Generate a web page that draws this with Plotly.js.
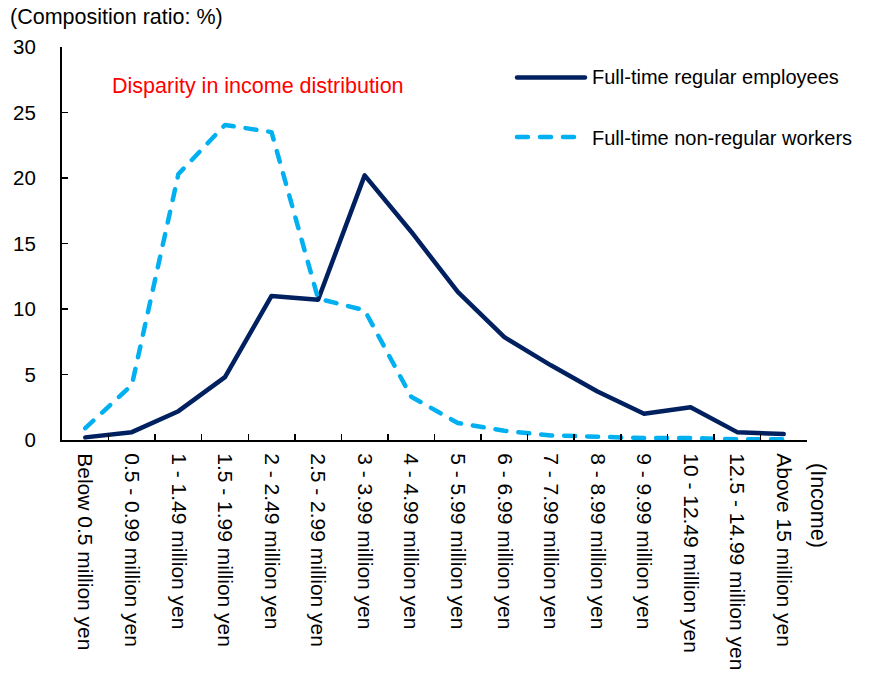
<!DOCTYPE html>
<html>
<head>
<meta charset="utf-8">
<script src="https://cdn.plot.ly/plotly-3.0.1.min.js"></script>
<style>
html,body{margin:0;padding:0;background:#fff;}
#chart{width:872px;height:675px;}
#chart .scatterlayer path.js-line, #chart .shapelayer path{stroke-linecap:round;stroke-linejoin:round;}
</style>
</head>
<body>
<div id="chart"></div>
<script>
const categories = [
  "Below 0.5 million yen", "0.5 - 0.99 million yen", "1 - 1.49 million yen",
  "1.5 - 1.99 million yen", "2 - 2.49 million yen", "2.5 - 2.99 million yen",
  "3 - 3.99 million yen", "4 - 4.99 million yen", "5 - 5.99 million yen",
  "6 - 6.99 million yen", "7 - 7.99 million yen", "8 - 8.99 million yen",
  "9 - 9.99 million yen", "10 - 12.49 million yen", "12.5 - 14.99 million yen",
  "Above 15 million yen"
];
const regularName = "Full-time regular employees";
const regularValues = [0.2, 0.6, 2.2, 4.8, 11.0, 10.7, 20.2, 15.9, 11.3, 7.85, 5.7, 3.7, 2.0, 2.5, 0.6, 0.45];
const nonRegularName = "Full-time non-regular workers";
const nonRegularValues = [0.9, 4.2, 20.3, 24.05, 23.5, 10.8, 9.9, 3.3, 1.3, 0.7, 0.35, 0.25, 0.15, 0.15, 0.05, 0.05];
const yTitle = "(Composition ratio: %)";
const xTitle = "(Income)";
const noteText = "Disparity in income distribution";

const navy = "#002060";
const sky = "#00B0F0";
const FONT = "Liberation Sans, Arial, sans-serif";
const DASH = "11px,12px";

const W = 872, H = 675, L = 62, R = 65, T = 47, B = 235;
const pw = W - L - R, ph = H - T - B;
const px = x => (x - L) / pw;
const py = y => (H - B - y) / ph;

const traces = [
  {x: categories, y: regularValues, name: regularName, type: "scatter", mode: "lines",
   line: {color: navy, width: 4.5}, showlegend: false},
  {x: categories, y: nonRegularValues, name: nonRegularName, type: "scatter", mode: "lines",
   line: {color: sky, width: 4.5, dash: DASH}, showlegend: false}
];

const layout = {
  width: W, height: H,
  margin: {l: L, r: R, t: T, b: B},
  paper_bgcolor: "#fff", plot_bgcolor: "#fff",
  font: {family: FONT, size: 20, color: "#000"},
  showlegend: false,
  xaxis: {
    type: "category", range: [-0.5, categories.length - 0.5],
    tickson: "boundaries", ticks: "inside", ticklen: 6, tickwidth: 1.5, tickcolor: "#000",
    tickangle: 90, tickfont: {family: FONT, size: 21, color: "#000"},
    showline: true, linecolor: "#000", linewidth: 2, showgrid: false, zeroline: false,
    ticklabelstandoff: 7, fixedrange: true
  },
  yaxis: {
    range: [0, 30], dtick: 5, tick0: 0, ticks: "inside", ticklen: 6, tickwidth: 1.5, tickcolor: "#000",
    tickfont: {family: FONT, size: 20.5, color: "#000"},
    showline: true, linecolor: "#000", linewidth: 2, showgrid: false, zeroline: false,
    ticklabelstandoff: 20, fixedrange: true
  },
  shapes: [
    {type: "line", xref: "paper", yref: "paper", x0: px(517), x1: px(585), y0: py(77.5), y1: py(77.5),
     line: {color: navy, width: 4.5}},
    {type: "line", xref: "paper", yref: "paper", x0: px(517), x1: px(577), y0: py(137), y1: py(137),
     line: {color: sky, width: 4.5, dash: DASH}}
  ],
  annotations: [
    {text: yTitle, xref: "paper", yref: "paper", x: px(8), y: py(17), xanchor: "left", yanchor: "middle",
     showarrow: false, font: {family: FONT, size: 21.5, color: "#000"}},
    {text: noteText, xref: "paper", yref: "paper", x: px(110), y: py(86), xanchor: "left", yanchor: "middle",
     showarrow: false, font: {family: FONT, size: 21.5, color: "#FF0000"}},
    {text: xTitle, xref: "paper", yref: "paper", x: px(818), y: py(505), xanchor: "center", yanchor: "middle",
     textangle: 90, showarrow: false, font: {family: FONT, size: 21.5, color: "#000"}},
    {text: regularName, xref: "paper", yref: "paper", x: px(590), y: py(77), xanchor: "left", yanchor: "middle",
     showarrow: false, font: {family: FONT, size: 20, color: "#000"}},
    {text: nonRegularName, xref: "paper", yref: "paper", x: px(590), y: py(138), xanchor: "left", yanchor: "middle",
     showarrow: false, font: {family: FONT, size: 20, color: "#000"}}
  ]
};

Plotly.newPlot("chart", traces, layout, {displayModeBar: false, staticPlot: true});
</script>
</body>
</html>
